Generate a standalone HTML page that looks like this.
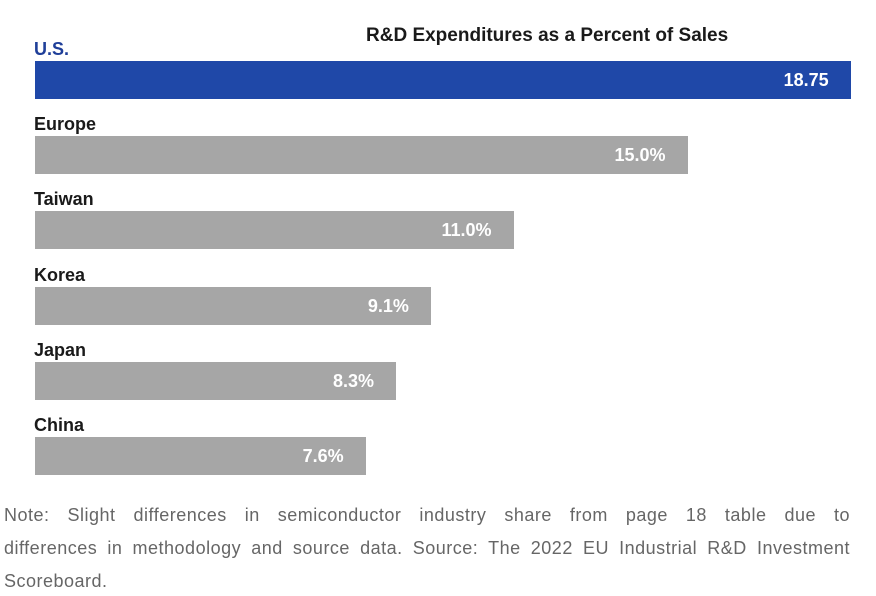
<!DOCTYPE html>
<html><head><meta charset="utf-8"><style>
body{margin:0;width:876px;height:596px;background:#fff;overflow:hidden;font-family:"Liberation Sans",sans-serif;position:relative}
.t{position:absolute;font-weight:bold;font-size:18px;color:#1a1a1a;white-space:nowrap}
.ln{position:absolute;left:4px;width:846px;font-size:18px;color:#666;text-align:justify;text-align-last:justify;letter-spacing:0.5px;white-space:nowrap}
.ln.last{text-align-last:left}
</style></head><body>
<div class="t" style="left:366px;top:25px;font-size:19px">R&amp;D Expenditures as a Percent of Sales</div>
<div id="chart"></div>
<div>
<div class="ln" style="top:505px;white-space:normal">Note: Slight differences in semiconductor industry share from page 18 table due to</div>
<div class="ln" style="top:538px;white-space:normal">differences in methodology and source data. Source: The 2022 EU Industrial R&amp;D Investment</div>
<div class="ln last" style="top:571px">Scoreboard.</div>
</div>
<script>
const categories=["U.S.","Europe","Taiwan","Korea","Japan","China"];
const values=[18.75,15.0,11.0,9.1,8.3,7.6];
const valueLabels=["18.75","15.0%","11.0%","9.1%","8.3%","7.6%"];
const x0=35,pxPerUnit=43.5,rowTop=61,rowStep=75.2,barH=38;
function xw(v){return v*pxPerUnit;}
function yb(i){return rowTop+i*rowStep;}
const c=document.getElementById('chart');
categories.forEach((cat,i)=>{
  const y=yb(i),w=xw(values[i]);
  const lab=document.createElement('div');
  lab.className='t';
  lab.style.left='34px';lab.style.top=(y-22)+'px';
  lab.style.color=i===0?'#1f3f99':'#1a1a1a';
  lab.textContent=cat;
  
  
  c.appendChild(lab);
  const b=document.createElement('div');
  b.style.cssText='position:absolute;left:'+x0+'px;top:'+y+'px;width:'+w+'px;height:'+barH+'px;background:'+(i===0?'#1f48a8':'#a6a6a6');
  
  
  c.appendChild(b);
  const v=document.createElement('div');
  v.className='t';
  v.style.cssText+='color:#fff;top:'+(y+9)+'px;right:'+(876-(x0+w-22))+'px';
  v.textContent=valueLabels[i];
  
  
  c.appendChild(v);
});
</script>
</body></html>
